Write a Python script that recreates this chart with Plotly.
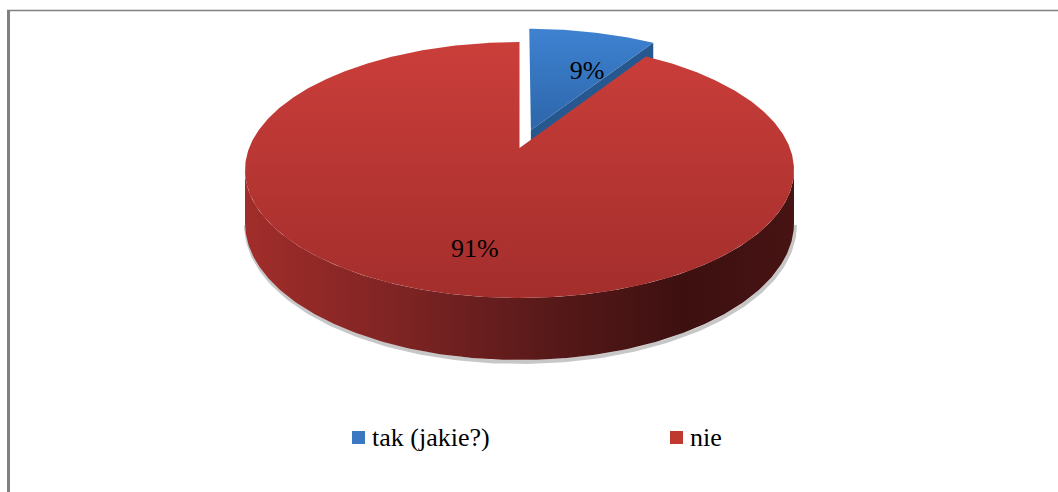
import numpy as np
import plotly.graph_objects as go

# ---- data ----
categories = ["tak (jakie?)", "nie"]
shares = [9, 91]                      # percent
top_colors = [["#2d66aa", "#3e82d1"], ["#a32e2c", "#cb3e3a"]]   # bottom -> top of face
cut_colors = ["#27578f", "#7a2222"]
legend_colors = ["#3a78c2", "#c0392f"]

# ---- geometry of the tilted, perspective pie (pixel units) ----
W, H = 1058, 492
CX, CY = 519.5, H - 148          # projected pie centre
A, B = 270.4, 124.2              # horizontal / depth scale of the disc
K = 0.172                        # perspective strength
DEPTH = 51.3                     # thickness of the disc
EXPLODE = [0.155, 0.0]           # radial pull per slice
LABEL_R = [0.55, 0.75]           # label distance from centre (disc radii)
LABEL_DX = 20
SERIF = "Liberation Serif"


def project(u, v, z=0.0):
    u = np.asarray(u, dtype=float)
    v = np.asarray(v, dtype=float)
    w = 1.0 + K * v
    return CX + A * u / w, CY + (B * v - DEPTH * z) / w


def arc(theta_deg, du, dv, z=0.0):
    t = np.radians(theta_deg)
    return project(np.sin(t) + du, np.cos(t) + dv, z)


fig = go.Figure()

total = float(sum(shares))
bounds = np.concatenate([[0.0], np.cumsum(shares) / total * 360.0])

# angular window of the disc's front wall (silhouette points)
sil = np.degrees(np.arccos(-K))
front_lo, front_hi = sil, 360.0 - sil

# soft shadow along the bottom rim
ts = np.linspace(front_lo, front_hi, 200)
sx, sy = arc(ts, 0, 0, 1.0)
fig.add_trace(go.Scatter(x=sx + 1, y=sy - 2, mode="lines",
                         line=dict(color="rgba(0,0,0,0.22)", width=4),
                         hoverinfo="skip", showlegend=False))

order = sorted(range(len(shares)), key=lambda i: -EXPLODE[i])
for i in order:
    t0, t1 = bounds[i], bounds[i + 1]
    mid = np.radians((t0 + t1) / 2)
    du, dv = EXPLODE[i] * np.sin(mid), EXPLODE[i] * np.cos(mid)

    # front wall of the slice
    lo, hi = max(t0, front_lo), min(t1, front_hi)
    if hi > lo:
        ts = np.linspace(lo, hi, 240)
        xt, yt = arc(ts, du, dv, 0.0)
        xb, yb = arc(ts[::-1], du, dv, 1.0)
        fig.add_trace(go.Scatter(
            x=np.concatenate([xt, xb]), y=np.concatenate([yt, yb]),
            fill="toself", mode="lines", line=dict(width=0),
            fillgradient=dict(type="horizontal", colorscale=[
                [0, "#a12d2a"], [0.3, "#7c2323"], [0.55, "#581919"],
                [0.8, "#3d1010"], [1, "#471313"]]),
            hoverinfo="skip", showlegend=False))

    # radial cut faces turned toward the viewer
    for edge, visible in ((t1, np.sin(np.radians(t1)) > 1e-6),
                          (t0, np.sin(np.radians(t0)) < -1e-6)):
        if not visible:
            continue
        ox, oy = arc(edge, du, dv, 0.0)
        obx, oby = arc(edge, du, dv, 1.0)
        cx0, cy0 = project(du, dv, 0.0)
        cbx, cby = project(du, dv, 1.0)
        fig.add_trace(go.Scatter(
            x=[cx0, ox, obx, cbx, cx0], y=[cy0, oy, oby, cby, cy0],
            fill="toself", mode="lines", line=dict(width=0),
            fillcolor=cut_colors[i], hoverinfo="skip", showlegend=False))

    # top face
    ts = np.linspace(t0, t1, max(40, int((t1 - t0) * 2)))
    xa, ya = arc(ts, du, dv, 0.0)
    cx0, cy0 = project(du, dv, 0.0)
    fig.add_trace(go.Scatter(
        x=np.concatenate([[cx0], xa, [cx0]]), y=np.concatenate([[cy0], ya, [cy0]]),
        fill="toself", mode="lines", line=dict(width=0),
        fillgradient=dict(type="vertical",
                          colorscale=[[0, top_colors[i][0]], [1, top_colors[i][1]]]),
        hoverinfo="skip", showlegend=False))

# percentage labels
lab_x, lab_y, lab_t = [], [], []
for i, val in enumerate(shares):
    t0, t1 = bounds[i], bounds[i + 1]
    mid = np.radians((t0 + t1) / 2)
    r = EXPLODE[i] + LABEL_R[i]
    lx, ly = project(r * np.sin(mid), r * np.cos(mid))
    lab_x.append(float(lx) + LABEL_DX)
    lab_y.append(float(ly))
    lab_t.append(f"{val}%")
fig.add_trace(go.Scatter(x=lab_x, y=lab_y, mode="text", text=lab_t,
                         textposition="middle center",
                         textfont=dict(family=SERIF, size=26, color="#000000"),
                         hoverinfo="skip", showlegend=False))

# legend row
LEGEND_Y = H - 437.5
LEGEND_X = [358.5, 676.5]
fig.add_trace(go.Scatter(x=LEGEND_X, y=[LEGEND_Y] * 2, mode="markers",
                         marker=dict(symbol="square", size=13, color=legend_colors,
                                     line=dict(width=0)),
                         hoverinfo="skip", showlegend=False))
for name, lx in zip(categories, LEGEND_X):
    fig.add_annotation(x=lx + 11, y=LEGEND_Y, text=name, showarrow=False,
                       xanchor="left", yanchor="middle",
                       font=dict(family=SERIF, size=26, color="#000000"))

# chart frame (top and left edges)
fig.add_shape(type="line", x0=7, x1=W, y0=H - 10.5, y1=H - 10.5,
              line=dict(color="#808080", width=1.5))
fig.add_shape(type="line", x0=8.5, x1=8.5, y0=0, y1=H - 10,
              line=dict(color="#808080", width=3))

fig.update_layout(
    width=W, height=H, margin=dict(l=0, r=0, t=0, b=0),
    paper_bgcolor="white", plot_bgcolor="white",
    font=dict(family=SERIF, size=26, color="#000000"),
    xaxis=dict(range=[0, W], visible=False, fixedrange=True),
    yaxis=dict(range=[0, H], visible=False, fixedrange=True),
    showlegend=False,
)

fig.write_html("out.html")
